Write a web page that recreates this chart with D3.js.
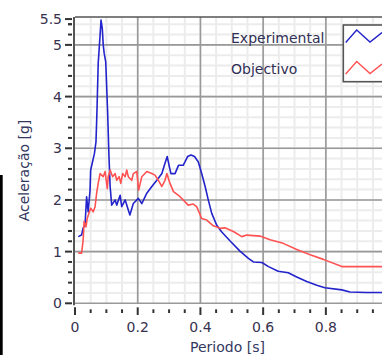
<!DOCTYPE html>
<html><head><meta charset="utf-8">
<script src="https://cdn.jsdelivr.net/npm/d3@7"></script>
<style>html,body{margin:0;padding:0;background:#fff;overflow:hidden}svg{display:block}</style>
</head><body>
<svg id="c" width="382" height="355"></svg>
<script>
// ---- data ----
const expT = [0.0105,0.021,0.026,0.032,0.037,0.042,0.048,0.050,0.056,0.062,0.067,0.070,0.074,0.080,0.083,0.087,0.090,0.093,0.098,0.104,0.108,0.112,0.117,0.128,0.133,0.144,0.149,0.160,0.175,0.186,0.202,0.213,0.229,0.245,0.261,0.277,0.287,0.294,0.301,0.306,0.319,0.330,0.345,0.351,0.359,0.370,0.381,0.393,0.404,0.415,0.425,0.436,0.452,0.468,0.494,0.526,0.553,0.569,0.596,0.617,0.648,0.680,0.707,0.739,0.771,0.797,0.851,0.877,0.930,0.979];
const expA = [1.29,1.32,1.46,1.51,2.06,1.77,2.19,2.58,2.74,2.90,3.13,3.71,4.64,5.19,5.48,5.32,5.00,4.84,4.67,3.71,2.90,2.26,1.90,2.00,1.90,2.09,1.87,2.00,1.71,1.93,2.03,1.93,2.13,2.26,2.38,2.51,2.71,2.84,2.64,2.51,2.51,2.67,2.67,2.74,2.84,2.87,2.84,2.74,2.51,2.26,2.00,1.74,1.51,1.38,1.21,1.01,0.87,0.80,0.79,0.71,0.62,0.59,0.51,0.42,0.35,0.30,0.26,0.22,0.21,0.21];
const objT = [0.0105,0.021,0.026,0.029,0.035,0.039,0.046,0.050,0.058,0.064,0.069,0.074,0.080,0.090,0.096,0.103,0.106,0.112,0.120,0.128,0.133,0.141,0.146,0.152,0.160,0.165,0.170,0.181,0.186,0.197,0.203,0.213,0.229,0.245,0.255,0.266,0.277,0.287,0.293,0.303,0.314,0.330,0.345,0.361,0.377,0.388,0.404,0.420,0.441,0.463,0.478,0.505,0.532,0.548,0.590,0.622,0.664,0.707,0.750,0.792,0.851,0.979];
const objA = [0.97,0.97,1.22,1.58,1.48,1.64,1.77,1.84,1.77,1.87,2.13,2.32,2.51,2.45,2.55,2.22,2.45,2.58,2.45,2.51,2.38,2.45,2.32,2.51,2.45,2.58,2.45,2.38,2.51,2.55,2.19,2.45,2.55,2.51,2.48,2.38,2.26,2.38,2.51,2.32,2.16,2.09,2.00,1.90,1.92,1.87,1.64,1.61,1.50,1.45,1.46,1.39,1.29,1.32,1.30,1.23,1.16,1.04,0.94,0.85,0.71,0.71];
const seriesNames = ["Experimental","Objectivo"];
const seriesColors = ["#2323cc","#ff5252"];
const xMajor = [0,0.2,0.4,0.6,0.8];
const yLabels = [0,1,2,3,4,5,5.5];

// ---- layout ----
const svg = d3.select("#c");
const L = 75, R = 382, T = 17, B = 303.3;
const x = d3.scaleLinear().domain([0,0.979]).range([L,R]);
const y = d3.scaleLinear().domain([0,5.54]).range([B,T]);
const txt = "#38324e";
const font = "DejaVu Sans, sans-serif";

// left black bar artifact
svg.append("rect").attr("x",0).attr("y",175).attr("width",2.7).attr("height",180).attr("fill","#000");

// grid
const g = svg.append("g");
const xMinor = d3.range(0, 0.98, 0.05).map(v=>+v.toFixed(2));
const yMinor = d3.range(0, 5.55, 0.2).map(v=>+v.toFixed(1));
g.selectAll(".vm").data(xMinor.filter(v=>v>0)).join("line")
  .attr("x1",d=>x(d)).attr("x2",d=>x(d)).attr("y1",T).attr("y2",B)
  .attr("stroke","#ececec").attr("stroke-width",2);
g.selectAll(".hm").data(yMinor.filter(v=>v>0)).join("line")
  .attr("x1",L).attr("x2",R).attr("y1",d=>y(d)).attr("y2",d=>y(d))
  .attr("stroke","#ececec").attr("stroke-width",2);
g.selectAll(".vM").data(xMajor.filter(v=>v>0)).join("line")
  .attr("x1",d=>x(d)).attr("x2",d=>x(d)).attr("y1",T).attr("y2",B)
  .attr("stroke","#999").attr("stroke-width",1.6);
g.selectAll(".hM").data([0,1,2,3,4,5]).join("line")
  .attr("x1",L).attr("x2",R).attr("y1",d=>y(d)).attr("y2",d=>y(d))
  .attr("stroke","#999").attr("stroke-width",1.6);
// frame top and left
svg.append("line").attr("x1",L).attr("x2",R).attr("y1",T).attr("y2",T).attr("stroke","#555").attr("stroke-width",1.6);
svg.append("line").attr("x1",L-1).attr("x2",L-1).attr("y1",T).attr("y2",B+2).attr("stroke","#555").attr("stroke-width",2);

// y ticks
const yTickMinor = yMinor.concat([5.4]).filter(v=>yLabels.indexOf(v)<0);
svg.selectAll(".ytm").data(yTickMinor).join("line")
  .attr("x1",68).attr("x2",72).attr("y1",d=>y(d)).attr("y2",d=>y(d))
  .attr("stroke","#333").attr("stroke-width",2);
svg.selectAll(".ytM").data(yLabels).join("line")
  .attr("x1",65).attr("x2",72).attr("y1",d=>y(d)).attr("y2",d=>y(d))
  .attr("stroke","#333").attr("stroke-width",2);
svg.selectAll(".ytl").data(yLabels).join("text")
  .attr("x",62).attr("y",d=>y(d)).attr("dy","0.36em").attr("text-anchor","end")
  .attr("font-family",font).attr("font-size",14).attr("fill",txt).text(d=>d);

// x ticks
svg.selectAll(".xtm").data(xMinor.filter(v=>xMajor.indexOf(v)<0)).join("line")
  .attr("x1",d=>x(d)).attr("x2",d=>x(d)).attr("y1",309.3).attr("y2",313)
  .attr("stroke","#333").attr("stroke-width",2);
svg.selectAll(".xtM").data(xMajor).join("line")
  .attr("x1",d=>x(d)).attr("x2",d=>x(d)).attr("y1",307.3).attr("y2",315)
  .attr("stroke","#333").attr("stroke-width",2);
svg.selectAll(".xtl").data(xMajor).join("text")
  .attr("x",d=>x(d)).attr("y",331.5).attr("text-anchor","middle")
  .attr("font-family",font).attr("font-size",14).attr("fill",txt).text(d=>d);

// axis titles
svg.append("text").attr("transform","translate(29,170.5) rotate(-90)").attr("text-anchor","middle")
  .attr("font-family",font).attr("font-size",14).attr("fill","#34385e").text("Aceleração [g]");
svg.append("text").attr("x",227.5).attr("y",352).attr("text-anchor","middle")
  .attr("font-family",font).attr("font-size",14).attr("fill","#34385e").text("Periodo [s]");

// series
const line = d3.line().x(d=>x(d[0])).y(d=>y(d[1]));
const series = [d3.zip(expT,expA), d3.zip(objT,objA)];
svg.append("defs").append("clipPath").attr("id","pc").append("rect")
  .attr("x",L).attr("y",T).attr("width",R-L).attr("height",B-T);
const sg = svg.append("g").attr("clip-path","url(#pc)");
sg.selectAll(".s").data(series).join("path")
  .attr("d",line).attr("fill","none")
  .attr("stroke",(d,i)=>seriesColors[i]).attr("stroke-width",1.6).attr("stroke-linejoin","round");

// legend
svg.append("rect").attr("x",343.3).attr("y",25).attr("width",60).attr("height",56.7)
  .attr("fill","#fff").attr("stroke","#555").attr("stroke-width",1.6);
const legY = [42.7, 74];
seriesNames.forEach((n,i)=>{
  svg.append("text").attr("x",231).attr("y",legY[i]).attr("font-family",font).attr("font-size",14)
    .attr("fill","#2f2f55").text(n);
  const by = i===0 ? 42.5 : 74;
  const pts = [[345.7,by],[356.7,by-12.5],[370,by-0.5],[382,by-10]];
  svg.append("path").attr("d",d3.line()(pts)).attr("fill","none")
    .attr("stroke",seriesColors[i]).attr("stroke-width",1.4);
});
</script>
</body></html>
